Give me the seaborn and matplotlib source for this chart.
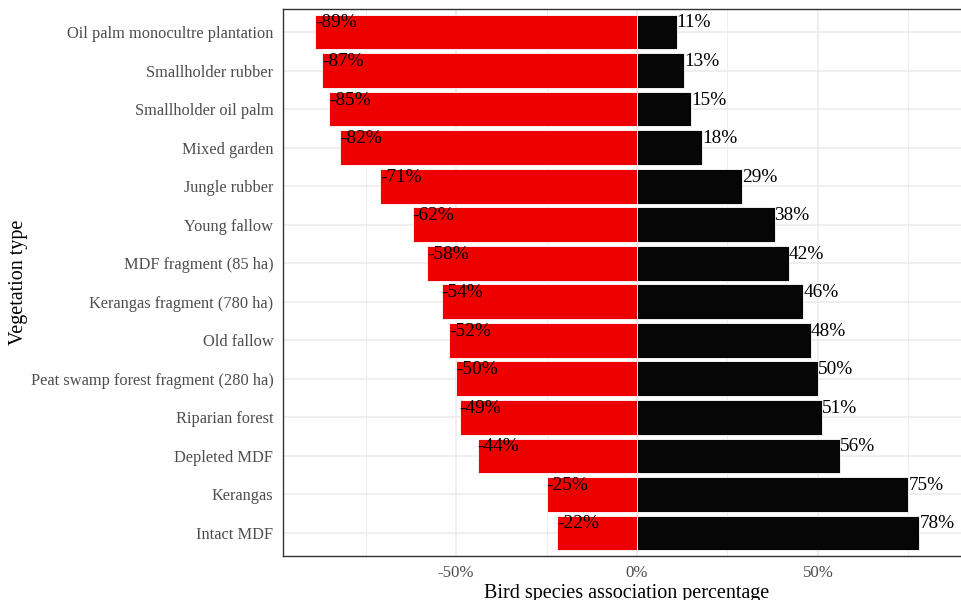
import pandas as pd
import matplotlib
matplotlib.use("Agg")
import matplotlib.pyplot as plt
import seaborn as sns
from matplotlib.ticker import FixedLocator, FuncFormatter

# values
vegetation = [
    "Oil palm monocultre plantation",
    "Smallholder rubber",
    "Smallholder oil palm",
    "Mixed garden",
    "Jungle rubber",
    "Young fallow",
    "MDF fragment (85 ha)",
    "Kerangas fragment (780 ha)",
    "Old fallow",
    "Peat swamp forest fragment (280 ha)",
    "Riparian forest",
    "Depleted MDF",
    "Kerangas",
    "Intact MDF",
]
negative = [-89, -87, -85, -82, -71, -62, -58, -54, -52, -50, -49, -44, -25, -22]
positive = [11, 13, 15, 18, 29, 38, 42, 46, 48, 50, 51, 56, 75, 78]
x_ticks = [-50, 0, 50]
x_minor = [-75, -25, 25, 75]

df = pd.DataFrame({"veg": vegetation, "neg": negative, "pos": positive})

sns.set_style("white")
plt.rcParams["font.family"] = ["Liberation Serif", "DejaVu Serif"]

fig = plt.figure(figsize=(9.61, 6), dpi=100)
# panel runs a little past the right edge of the picture, as in the reference
ax = fig.add_axes([283 / 961, 44 / 600, (970 - 283) / 961, 547 / 600])

grid_col = "#EBEBEB"
for v in x_ticks:
    ax.axvline(v, color=grid_col, lw=1.1, zorder=0)
for v in x_minor:
    ax.axvline(v, color=grid_col, lw=0.6, zorder=0)
for i in range(len(vegetation)):
    ax.axhline(i, color=grid_col, lw=1.1, zorder=0)

sns.barplot(data=df, y="veg", x="neg", order=vegetation, orient="h", color="#EE0000",
            saturation=1, width=0.9, edgecolor="white", linewidth=0.6, ax=ax, zorder=2)
sns.barplot(data=df, y="veg", x="pos", order=vegetation, orient="h", color="#060606",
            saturation=1, width=0.9, edgecolor="white", linewidth=0.6, ax=ax, zorder=2)

for i, (n, p) in enumerate(zip(negative, positive)):
    ax.text(n, i - 0.12, f"{n}%", ha="left", va="baseline", fontsize=13.9, color="black", zorder=3)
    ax.text(p, i - 0.12, f"{p}%", ha="left", va="baseline", fontsize=13.9, color="black", zorder=3)

ax.set_xlim(-97.8, 92.0)
ax.set_ylim(len(vegetation) - 1 + 0.6, -0.6)

ax.xaxis.set_major_locator(FixedLocator(x_ticks))
ax.xaxis.set_major_formatter(FuncFormatter(lambda v, pos: f"{int(v)}%"))
ax.tick_params(axis="both", which="major", length=4, width=1, color="#333333",
               labelcolor="#4D4D4D", labelsize=11.8, direction="out")
ax.tick_params(axis="x", pad=2.5, labelsize=12.2)
ax.tick_params(axis="y", pad=3)

for s in ax.spines.values():
    s.set_color("#333333")
    s.set_linewidth(1.0)
    s.set_zorder(4)

ax.set_xlabel("Bird species association percentage", fontsize=14.5, color="black")
ax.set_ylabel("Vegetation type", fontsize=14.5, color="black")
ax.xaxis.set_label_coords((626.5 - 283) / 687, -0.051)
ax.yaxis.set_label_coords((19 - 283) / 687, 0.5)
ax.yaxis.label.set_va("center")

fig.savefig("out.png", dpi=100)
